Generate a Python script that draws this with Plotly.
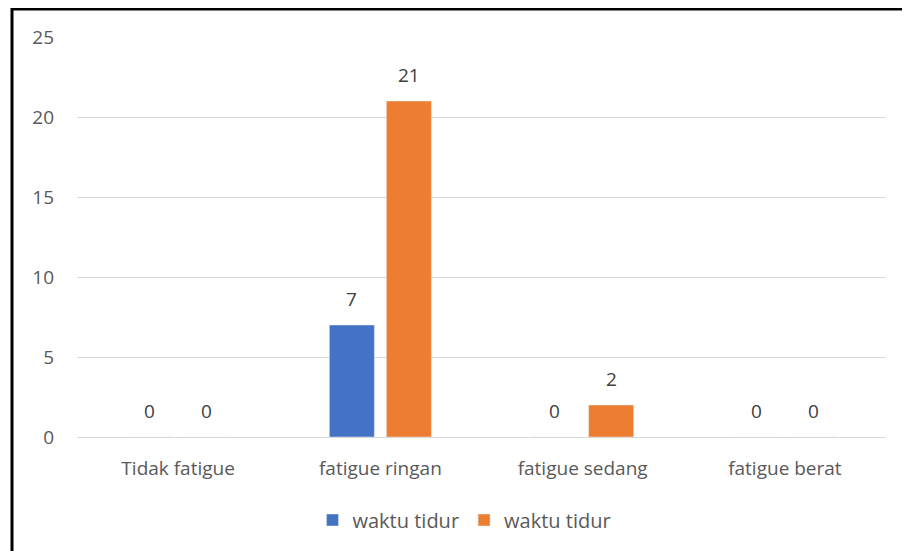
import plotly.graph_objects as go

categories = ["Tidak fatigue", "fatigue ringan", "fatigue sedang", "fatigue berat"]
series1_name = "waktu tidur"
series1_values = [0, 7, 0, 0]
series2_name = "waktu tidur"
series2_values = [0, 21, 2, 0]
y_ticks = [0, 5, 10, 15, 20, 25]

FONT = "Open Sans, Liberation Sans, sans-serif"

fig = go.Figure()
fig.add_trace(go.Bar(x=categories, y=series1_values, name=series1_name,
                     marker_color="#4472C4"))
fig.add_trace(go.Bar(x=categories, y=series2_values, name=series2_name,
                     marker_color="#ED7D31"))

# page body has an 8px margin, so the figure starts at (8, 8)
W, H = 902, 543
OFF = 8
L, R, T, B = 69, 24, 29, 114
pw, ph = W - L - R, H - T - B

BARGAP, GROUPGAP = 0.436, 0.21
slot_px = pw / len(categories)
half_offset = slot_px * (1 - BARGAP) / 4  # centre of each bar within its group

def px_x(px):
    return (px - OFF - L) / pw

def px_y(py):
    return (H - B - (py - OFF)) / ph

annotations = []
for sign, values in ((-1, series1_values), (1, series2_values)):
    for cat, v in zip(categories, values):
        annotations.append(dict(x=cat, y=v, xref="x", yref="y", text=str(v),
                                showarrow=False, yanchor="bottom", yshift=11,
                                xshift=sign * half_offset,
                                font=dict(size=19, color="#404040", family=FONT)))

fig.update_layout(
    width=W, height=H,
    margin=dict(l=L, r=R, t=T, b=B),
    paper_bgcolor="white", plot_bgcolor="white",
    barmode="group", bargap=BARGAP, bargroupgap=GROUPGAP,
    font=dict(family=FONT, color="#595959", size=18),
    showlegend=True,
    legend=dict(orientation="h", x=0.5 - 17 / pw, xanchor="center", y=px_y(520),
                yanchor="middle", font=dict(size=20, color="#595959"), itemwidth=30,
                traceorder="normal"),
    xaxis=dict(showgrid=False, showline=True, linecolor="#D9D9D9", linewidth=1,
               ticks="", tickfont=dict(size=19, color="#595959"), ticklabelstandoff=14),
    yaxis=dict(range=[0, 25], tickvals=y_ticks, showgrid=True, gridcolor="#D9D9D9",
               gridwidth=1, zeroline=False, showline=False, ticks="",
               tickfont=dict(size=19, color="#595959"), ticklabelstandoff=22),
    annotations=annotations,
    shapes=[
        dict(type="line", xref="paper", yref="paper", x0=px_x(12), x1=px_x(912),
             y0=px_y(9), y1=px_y(9), line=dict(color="black", width=3)),
        dict(type="line", xref="paper", yref="paper", x0=px_x(12), x1=px_x(12),
             y0=px_y(8), y1=px_y(553), line=dict(color="black", width=3)),
    ],
)

fig.write_html("out.html")
